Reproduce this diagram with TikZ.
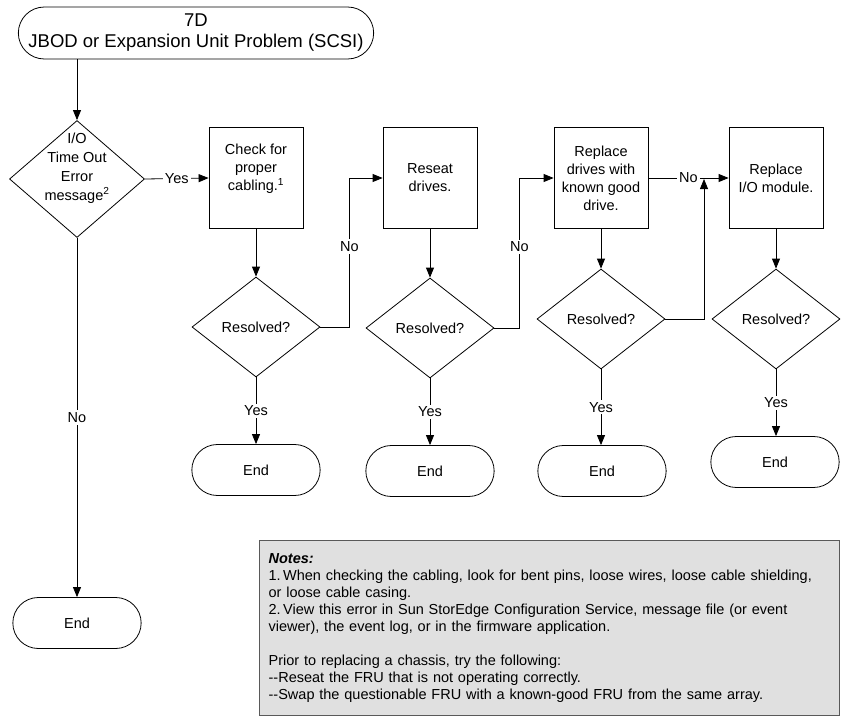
\documentclass[tikz,border=0pt]{standalone}
\usepackage{fontspec}
\setmainfont{Liberation Sans}
\usetikzlibrary{shapes.geometric,shapes.misc,arrows.meta}
\newcommand{\upstack}[2]{\raisebox{#1}[\height][\depth]{\begin{tabular}{@{}c@{}}#2\end{tabular}}}

\begin{document}
\begin{tikzpicture}[x=1pt,y=-1pt,>={Triangle[length=10pt,width=8pt]},
    line width=0.8pt,font=\fontsize{14.5}{18}\selectfont,
    process/.style={draw,rectangle,minimum width=94pt,minimum height=101pt,align=center,inner sep=2pt},
    decision/.style={draw,diamond,minimum width=128pt,minimum height=100pt,align=center,inner sep=-8pt},
    terminal/.style={draw,rounded rectangle,minimum width=135pt,minimum height=51pt},
    lbl/.style={fill=white,inner sep=2pt},
    notebox/.style={draw=black!65,line width=1.3pt,fill=black!12,align=left,text width=562pt,
      inner xsep=9pt,inner ysep=6pt,minimum height=175pt,font=\fontsize{14.5}{17}\selectfont}]
  \useasboundingbox (0,0) rectangle (843,717);
  \node[terminal,minimum width=362pt,minimum height=52pt,align=center,font=\fontsize{18.5}{21}\selectfont]
    (start) at (196,33) {7D\\JBOD or Expansion Unit Problem (SCSI)};
  \node[decision,minimum width=135pt,minimum height=117pt] (io) at (77,179)
    {\upstack{11pt}{I/O\\[1pt]Time Out\\[1pt]Error\\[1pt]message\textsuperscript{2}}};
  \node[terminal] (end0) at (77,623) {End};

  \node[process] (chk) at (256,178) {\upstack{9pt}{Check for\\proper\\cabling.\textsuperscript{1}}};
  \node[decision] (res1) at (256,327) {Resolved?};
  \node[terminal] (end1) at (256,470) {End};

  \node[process] (rst) at (430,178) {Reseat\\drives.};
  \node[decision] (res2) at (430,328) {Resolved?};
  \node[terminal] (end2) at (430,471) {End};

  \node[process] (rpd) at (601,178) {Replace\\drives with\\known good\\drive.};
  \node[decision] (res3) at (601,319) {Resolved?};
  \node[terminal] (end3) at (602,471) {End};

  \node[process] (rio) at (776,178) {Replace\\I/O module.};
  \node[decision] (res4) at (776,319) {Resolved?};
  \node[terminal] (end4) at (775,462) {End};
  \coordinate (jn) at (704,178);

  \draw[->] (start.south -| io.north) -- (io.north);
  \draw[->] (io.east) -- node[lbl]{Yes} (chk.west);
  \draw[->] (io.south) -- node[lbl]{No} (end0.north);

  \draw[->] (chk.south) -- (res1.north);
  \draw[->] (res1.south) -- node[lbl]{Yes} (end1.north);
  \draw[->] (res1.east) -- ++(29,0) |- node[lbl,pos=0.27]{No} (rst.west);

  \draw[->] (rst.south) -- (res2.north);
  \draw[->] (res2.south) -- node[lbl]{Yes} (end2.north);
  \draw[->] (res2.east) -- ++(25,0) |- node[lbl,pos=0.27]{No} (rpd.west);

  \draw[->] (rpd.south) -- (res3.north);
  \draw[->] (res3.south) -- node[lbl]{Yes} (end3.north -| res3.south);
  \draw[->] (rpd.east) -- node[lbl]{No} (rio.west);
  \draw[->,shorten >=1pt] (res3.east) -| (jn);

  \draw[->] (rio.south) -- (res4.north);
  \draw[->] (res4.south) -- node[lbl]{Yes} (end4.north -| res4.south);

  \node[notebox,anchor=north west] (notes) at (259,540) {\textbf{\textit{Notes:}}\\
    1.\,When checking the cabling, look for bent pins, loose wires, loose cable shielding,\\
    or loose cable casing.\\
    2.\,View this error in Sun StorEdge Configuration Service, message file (or event\\
    viewer), the event log, or in the firmware application.\\[17pt]
    Prior to replacing a chassis, try the following:\\
    -{}-Reseat the FRU that is not operating correctly.\\
    -{}-Swap the questionable FRU with a known-good FRU from the same array.};
\end{tikzpicture}
\end{document}
